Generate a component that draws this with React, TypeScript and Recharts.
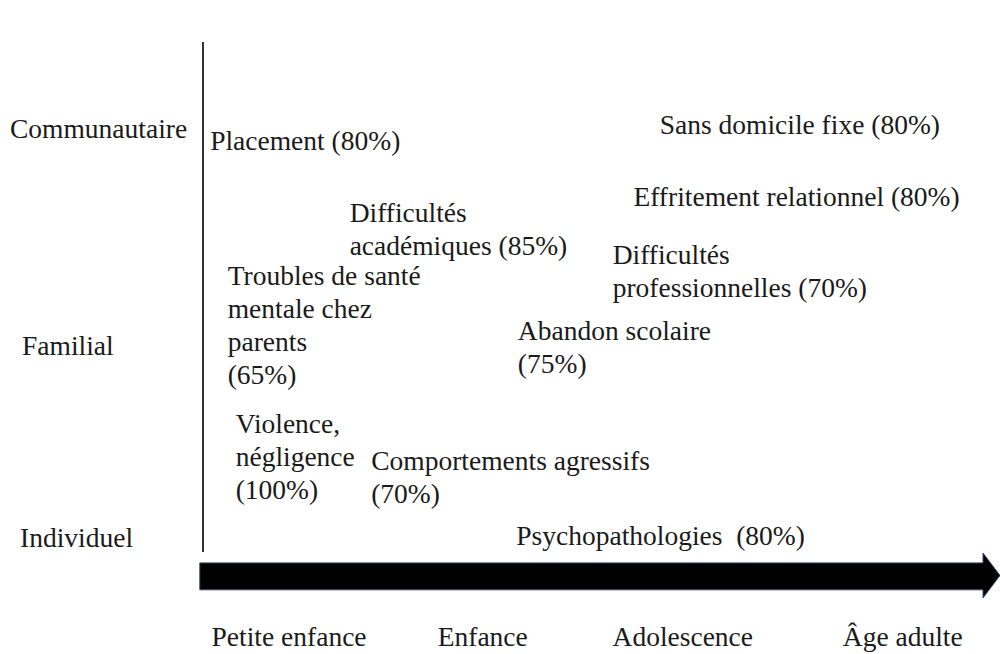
import { ScatterChart, Scatter, XAxis, YAxis, ReferenceArea } from "recharts";

// positions on a 0-100 grid: x = timeline, y = level (bottom to top)
const stages = ["Petite enfance", "Enfance", "Adolescence", "Âge adulte"];
const stageTicks = [10.8, 35.1, 60.2, 87.8];

const levels = ["Individuel", "Familial", "Communautaire"];
const levelTicks = [2.9, 40.6, 83.1];

const factorLines = [
  ["Placement (80%)"],
  ["Sans domicile fixe (80%)"],
  ["Effritement relationnel (80%)"],
  ["Difficultés", "académiques (85%)"],
  ["Troubles de santé", "mentale chez", "parents", "(65%)"],
  ["Difficultés", "professionnelles (70%)"],
  ["Abandon scolaire", "(75%)"],
  ["Violence,", "négligence", "(100%)"],
  ["Comportements agressifs", "(70%)"],
  ["Psychopathologies  (80%)"],
];
const factorX = [0.9, 57.3, 54.0, 18.4, 3.1, 51.4, 39.5, 4.1, 21.1, 39.3];
const factorY = [80.8, 83.9, 69.8, 66.5, 54.3, 58.4, 43.5, 25.3, 18.0, 3.3];

const arrowX = [-0.4, 100];
const arrowY = [-9.0, -0.2];

const factors = factorLines.map((lines, i) => ({
  x: factorX[i],
  y: factorY[i],
  lines,
}));

const txt = {
  fontFamily: '"Liberation Serif", "DejaVu Serif", serif',
  fontSize: 27.5,
  fill: "#1a1a1a",
  whiteSpace: "pre" as const,
};

function FactorLabel(props: any) {
  const { cx, cy, payload } = props;
  return (
    <text x={cx} y={cy} style={txt}>
      {payload.lines.map((l: string, i: number) => (
        <tspan key={i} x={cx} dy={i === 0 ? "0.35em" : 33}>
          {l}
        </tspan>
      ))}
    </text>
  );
}

function LevelTick(props: any) {
  const { y, index } = props;
  const shift = [20, 22, 10];
  return (
    <text x={shift[index]} y={y} dy="0.35em" style={txt} textAnchor="start">
      {levels[index]}
    </text>
  );
}

function StageTick(props: any) {
  const { x, index } = props;
  return (
    <text x={x} y={636} dy="0.35em" style={txt} textAnchor="middle">
      {stages[index]}
    </text>
  );
}

function Arrow(props: any) {
  const { x, y, width, height } = props;
  const head = 17;
  const top = y + height * 0.22;
  const bot = y + height * 0.82;
  const hx = x + width - head;
  const pts = [
    [x, top],
    [hx, top],
    [hx, y],
    [x + width, y + height / 2],
    [hx, y + height],
    [hx, bot],
    [x, bot],
  ]
    .map((p) => p.join(","))
    .join(" ");
  return <polygon points={pts} fill="#000" stroke="#3a4a6a" strokeWidth={1} />;
}

export default function App() {
  return (
    <div style={{ position: "absolute", left: 0, top: 0, background: "#fff" }}>
      <ScatterChart width={1000} height={654} margin={{ top: 42, right: 0, bottom: 42, left: 0 }}>
        <XAxis
          type="number"
          dataKey="x"
          domain={[0, 100]}
          ticks={stageTicks}
          axisLine={false}
          tickLine={false}
          height={60}
          tick={<StageTick />}
          interval={0}
        />
        <YAxis
          type="number"
          dataKey="y"
          domain={[0, 100]}
          ticks={levelTicks}
          width={203}
          axisLine={{ stroke: "#333", strokeWidth: 2 }}
          tickLine={false}
          tick={<LevelTick />}
          interval={0}
        />
        <ReferenceArea
          x1={arrowX[0]}
          x2={arrowX[1]}
          y1={arrowY[0]}
          y2={arrowY[1]}
          ifOverflow="visible"
          shape={<Arrow />}
        />
        <Scatter data={factors} shape={<FactorLabel />} isAnimationActive={false} legendType="none" />
      </ScatterChart>
    </div>
  );
}
